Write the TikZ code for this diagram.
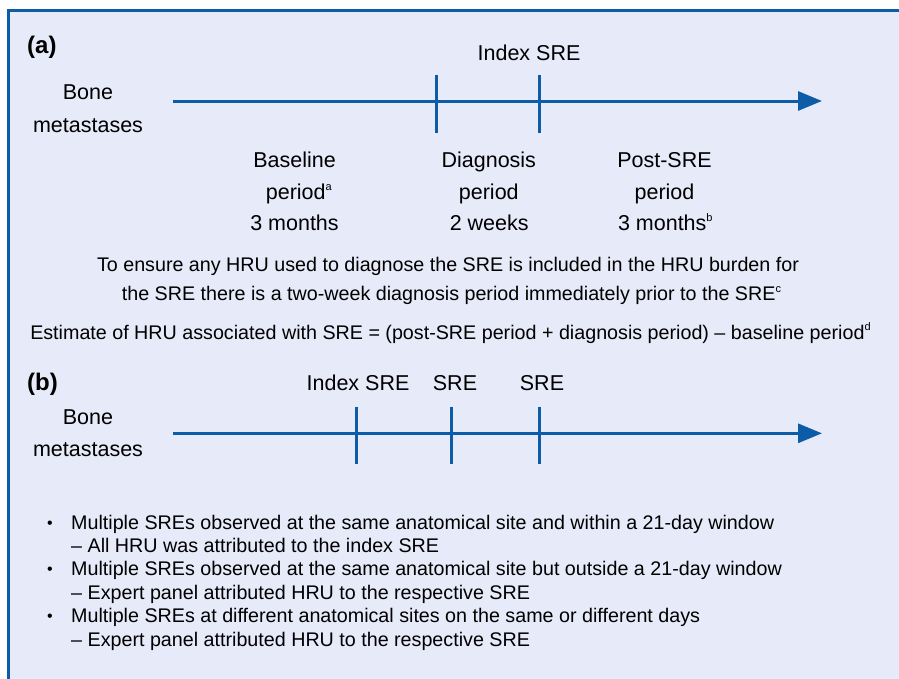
\documentclass[tikz,border=0pt]{standalone}
\usepackage{fontspec}
\setmainfont{Liberation Sans}
\usetikzlibrary{arrows.meta}
\definecolor{lav}{RGB}{231,234,248}
\definecolor{tlblue}{RGB}{12,92,168}
\newcommand\supx[1]{\raisebox{0.42em}{\fontsize{11}{11}\selectfont #1}}
\begin{document}
\begin{tikzpicture}[x=1pt,y=-1pt,
 lbl/.style={inner sep=0,anchor=base,font=\fontsize{21.5}{25}\selectfont},
 capt/.style={inner sep=0,anchor=base,font=\fontsize{19.7}{23}\selectfont},
 bul/.style={inner sep=0,anchor=base west,font=\fontsize{19.7}{23}\selectfont},
 dot/.style={inner sep=0,anchor=base,font=\fontsize{16}{18}\selectfont},
 panel/.style={inner sep=0,anchor=base west,font=\fontsize{24}{28}\bfseries\selectfont},
 axis/.style={draw=tlblue,line width=3pt,-{Triangle[length=24pt,width=19pt]}},
 tickmark/.style={draw=tlblue,line width=3pt}]
\useasboundingbox (0,0) rectangle (899,678);
\fill[lav] (8.7,10.3) rectangle (905,690);
\draw[tlblue,line width=2.7pt] (8.7,690) -- (8.7,10.3) -- (905,10.3);
% ---------- panel (a)
\node[panel] (pa) at (27,53) {(a)};
\node[lbl] (ia) at (529,60) {Index SRE};
\node[lbl] (bonea) at (88,99) {Bone};
\node[lbl] (metaa) at (88,132) {metastases};
\coordinate (a0) at (173,101);
\coordinate (a1) at (822,101);
\coordinate (ta1u) at (436,75);
\coordinate (ta1d) at (436,133);
\coordinate (ta2u) at (539,75);
\coordinate (ta2d) at (539,133);
\draw[axis] (a0) -- (a1);
\draw[tickmark] (ta1u) -- (ta1d);
\draw[tickmark] (ta2u) -- (ta2d);
\node[lbl] (c1a) at (294.6,167.7) {Baseline};
\node[lbl] (c1b) at (298.8,199.2) {period\supx{a}};
\node[lbl] (c1c) at (294.5,230.7) {3 months};
\node[lbl] (c2a) at (488.8,167.7) {Diagnosis};
\node[lbl] (c2b) at (488.8,199.2) {period};
\node[lbl] (c2c) at (489.2,230.7) {2 weeks};
\node[lbl] (c3a) at (664.5,167.7) {Post-SRE};
\node[lbl] (c3b) at (664.5,199.2) {period};
\node[lbl] (c3c) at (665.3,230.7) {3 months\supx{b}};
\node[capt] (n1) at (448,271.7) {To ensure any HRU used to diagnose the SRE is included in the HRU burden for};
\node[capt] (n2) at (451.5,300.5) {the SRE there is a two-week diagnosis period immediately prior to the SRE\supx{c}};
\node[capt] (n3) at (450.5,339) {Estimate of HRU associated with SRE = (post-SRE period + diagnosis period) -- baseline period\supx{d}};
% ---------- panel (b)
\node[panel] (pb) at (27,390) {(b)};
\node[lbl] (ib) at (358,390.7) {Index SRE};
\node[lbl] (sb2) at (455,390.7) {SRE};
\node[lbl] (sb3) at (542,390.7) {SRE};
\node[lbl] (boneb) at (88,424) {Bone};
\node[lbl] (metab) at (88,456) {metastases};
\coordinate (b0) at (173,433.3);
\coordinate (b1) at (822,433.3);
\coordinate (tb1u) at (356.7,406.7);
\coordinate (tb1d) at (356.7,464);
\coordinate (tb2u) at (451.7,406.7);
\coordinate (tb2d) at (451.7,464);
\coordinate (tb3u) at (539.3,406.7);
\coordinate (tb3d) at (539.3,464);
\draw[axis] (b0) -- (b1);
\draw[tickmark] (tb1u) -- (tb1d);
\draw[tickmark] (tb2u) -- (tb2d);
\draw[tickmark] (tb3u) -- (tb3d);
% ---------- bullets
\node[dot] (d1) at (50,528) {\textbullet};
\node[bul] (l1) at (71,529) {Multiple SREs observed at the same anatomical site and within a 21-day window};
\node[bul] (l2) at (71,552.4) {-- All HRU was attributed to the index SRE};
\node[dot] (d2) at (50,574.8) {\textbullet};
\node[bul] (l3) at (71,575.8) {Multiple SREs observed at the same anatomical site but outside a 21-day window};
\node[bul] (l4) at (71,599.2) {-- Expert panel attributed HRU to the respective SRE};
\node[dot] (d3) at (50,621.6) {\textbullet};
\node[bul] (l5) at (71,622.6) {Multiple SREs at different anatomical sites on the same or different days};
\node[bul] (l6) at (71,646) {-- Expert panel attributed HRU to the respective SRE};
\end{tikzpicture}
\end{document}
